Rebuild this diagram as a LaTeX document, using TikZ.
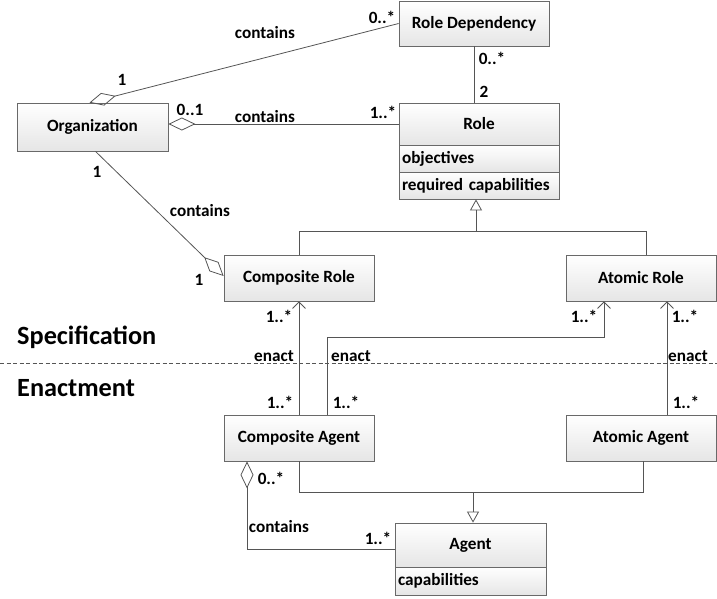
\documentclass[tikz,border=0pt]{standalone}
\usepackage{fontspec}
\setmainfont{Carlito}
\usetikzlibrary{arrows.meta,calc}
\definecolor{lc}{RGB}{85,85,85}
\definecolor{bc}{RGB}{105,105,105}
\begin{document}
\begin{tikzpicture}[x=1pt,y=-1pt,
  font=\fontsize{17.2}{20}\selectfont\bfseries,
  box/.style={draw=bc, line width=0.8pt, top color=white, bottom color=black!10, inner sep=0pt},
  cell/.style={box, text width=154pt, inner xsep=3pt, align=left},
  ln/.style={draw=lc, line width=0.8pt},
  aggr/.style={ln, -{Diamond[open,length=27pt,width=13pt]}},
  gen/.style={ln, -{Triangle[open,length=11pt,width=12pt]}},
  enact/.style={ln, -{Straight Barb[length=6.5pt,width=13pt]}},
  lbl/.style={inner sep=0pt, text=black},
  big/.style={inner sep=0pt, font=\fontsize{26.3}{30}\selectfont\bfseries}
]
\useasboundingbox (0,0) rectangle (717,598);

% classes
\node[box, minimum width=150, minimum height=45] (rdep) at (474,23.5) {Role Dependency};
\node[box, minimum width=160, minimum height=42] (role) at (479,124) {Role};
\node[cell, minimum height=27] (obj) at (479,158.5) {objectives};
\node[cell, minimum height=27] (rcap) at (479,185.5) {required capabilities};
\node[box, minimum width=151, minimum height=48] (org) at (92.5,127) {Organization};
\node[box, minimum width=150, minimum height=46] (crole) at (299,278) {Composite Role};
\node[box, minimum width=150, minimum height=46] (arole) at (641,278) {Atomic Role};
\node[box, minimum width=150, minimum height=46] (cagent) at (299,438) {Composite Agent};
\node[box, minimum width=150, minimum height=46] (aagent) at (641,438) {Atomic Agent};
\node[box, minimum width=151, minimum height=44] (agent) at (470.5,545) {Agent};
\node[box, text width=145pt, inner xsep=3pt, align=left, minimum height=28] (acap) at (470.5,581) {capabilities};

% separator
\draw[lc, line width=0.7pt, dash pattern=on 4pt off 2.5pt] (0,363) -- (717,363);
\node[big, anchor=base west] (spec) at (17,344) {Specification};
\node[big, anchor=base west] (enac) at (17,396) {Enactment};

% aggregations
\draw[aggr] (rdep.west) -- ($(org.north)+(-3,0)$);
\draw[aggr] (role.west) -- (role.west -| org.east);
\draw[aggr] ($(org.south)+(3,0)$) -- ($(crole.west)+(0,-2)$);
\coordinate (cagg) at (247,549);
\draw[aggr] (agent.west |- cagg) -- (cagg) -- (cagg |- cagent.south);

% role dependency association
\draw[ln] (rdep.south) -- (rdep.south |- role.north);

% generalization roles
\coordinate (rg) at (476,231);
\draw[gen] (rg) -- (rg |- rcap.south);
\coordinate (ar) at ($(arole.north)+(5,0)$);
\draw[ln] (crole.north) -- (crole.north |- rg) -- (rg -| ar) -- (ar);

% generalization agents
\coordinate (ag) at (473,492);
\draw[gen] (ag) -- (ag |- agent.north);
\coordinate (aa) at ($(aagent.south)+(2,0)$);
\draw[ln] (cagent.south) -- (cagent.south |- ag) -- (ag -| aa) -- (aa);

% enact
\draw[enact] (cagent.north) -- (crole.south);
\coordinate (ca2) at ($(cagent.north)+(28,0)$);
\coordinate (ar2) at ($(arole.south)+(-37,0)$);
\draw[enact] (ca2) -- ++(0,-77) -| (ar2);
\coordinate (aa2) at ($(aagent.north)+(26,0)$);
\draw[enact] (aa2) -- (aa2 |- arole.south);

% labels
\node[lbl] (l1) at (265,33) {contains};
\node[lbl] (l2) at (382,17) {0..*};
\node[lbl] (l3) at (122,80) {1};
\node[lbl] (l4) at (190,110) {0..1};
\node[lbl] (l5) at (265,117) {contains};
\node[lbl] (l6) at (383,112) {1..*};
\node[lbl] (l7) at (492,58) {0..*};
\node[lbl] (l8) at (484,92) {2};
\node[lbl] (l9) at (97,172) {1};
\node[lbl] (l10) at (200,211) {contains};
\node[lbl] (l11) at (199,280) {1};
\node[lbl] (l12) at (279,316) {1..*};
\node[lbl] (l13) at (274,356) {enact};
\node[lbl] (l14) at (351,356) {enact};
\node[lbl] (l15) at (584,316) {1..*};
\node[lbl] (l16) at (685,316) {1..*};
\node[lbl] (l17) at (688,356) {enact};
\node[lbl] (l18) at (280,402) {1..*};
\node[lbl] (l19) at (346,402) {1..*};
\node[lbl] (l20) at (686,402) {1..*};
\node[lbl] (l21) at (271,478) {0..*};
\node[lbl] (l22) at (279,527) {contains};
\node[lbl] (l23) at (378,538) {1..*};
\end{tikzpicture}
\end{document}
